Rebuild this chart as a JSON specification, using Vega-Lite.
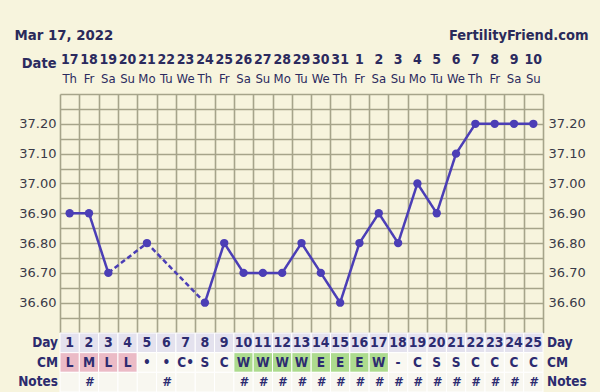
{
  "$schema": "https://vega.github.io/schema/vega-lite/v6.json",
  "background": "#F7F4DD",
  "padding": {"left": 14, "top": 27, "right": 12, "bottom": 1},
  "autosize": {"type": "pad"},
  "spacing": 0,
  "bounds": "flush",
  "config": {
    "view": {"stroke": null},
    "font": "DejaVu Sans",
    "axis": {"ticks": false, "tickSize": 0, "domain": false, "labelFont": "DejaVu Sans", "titleFont": "DejaVu Sans Condensed, DejaVu Sans", "labelOverlap": false, "labelFlush": false}
  },
  "datasets": {
    "days": [
      {"day": 1, "date": 17, "wd": "Th", "temp": 36.9, "cm": "L", "phase": "period", "note": ""},
      {"day": 2, "date": 18, "wd": "Fr", "temp": 36.9, "cm": "M", "phase": "period", "note": "#"},
      {"day": 3, "date": 19, "wd": "Sa", "temp": 36.7, "cm": "L", "phase": "period", "note": ""},
      {"day": 4, "date": 20, "wd": "Su", "temp": null, "cm": "L", "phase": "period", "note": ""},
      {"day": 5, "date": 21, "wd": "Mo", "temp": 36.8, "cm": "•", "phase": "other", "note": ""},
      {"day": 6, "date": 22, "wd": "Tu", "temp": null, "cm": "•", "phase": "other", "note": "#"},
      {"day": 7, "date": 23, "wd": "We", "temp": null, "cm": "C•", "phase": "other", "note": ""},
      {"day": 8, "date": 24, "wd": "Th", "temp": 36.6, "cm": "S", "phase": "other", "note": ""},
      {"day": 9, "date": 25, "wd": "Fr", "temp": 36.8, "cm": "C", "phase": "other", "note": ""},
      {"day": 10, "date": 26, "wd": "Sa", "temp": 36.7, "cm": "W", "phase": "fertile", "note": "#"},
      {"day": 11, "date": 27, "wd": "Su", "temp": 36.7, "cm": "W", "phase": "fertile", "note": "#"},
      {"day": 12, "date": 28, "wd": "Mo", "temp": 36.7, "cm": "W", "phase": "fertile", "note": "#"},
      {"day": 13, "date": 29, "wd": "Tu", "temp": 36.8, "cm": "W", "phase": "fertile", "note": "#"},
      {"day": 14, "date": 30, "wd": "We", "temp": 36.7, "cm": "E", "phase": "fertile", "note": "#"},
      {"day": 15, "date": 31, "wd": "Th", "temp": 36.6, "cm": "E", "phase": "fertile", "note": "#"},
      {"day": 16, "date": 1, "wd": "Fr", "temp": 36.8, "cm": "E", "phase": "fertile", "note": "#"},
      {"day": 17, "date": 2, "wd": "Sa", "temp": 36.9, "cm": "W", "phase": "fertile", "note": "#"},
      {"day": 18, "date": 3, "wd": "Su", "temp": 36.8, "cm": "-", "phase": "other", "note": "#"},
      {"day": 19, "date": 4, "wd": "Mo", "temp": 37.0, "cm": "C", "phase": "other", "note": "#"},
      {"day": 20, "date": 5, "wd": "Tu", "temp": 36.9, "cm": "S", "phase": "other", "note": "#"},
      {"day": 21, "date": 6, "wd": "We", "temp": 37.1, "cm": "S", "phase": "other", "note": "#"},
      {"day": 22, "date": 7, "wd": "Th", "temp": 37.2, "cm": "C", "phase": "other", "note": "#"},
      {"day": 23, "date": 8, "wd": "Fr", "temp": 37.2, "cm": "C", "phase": "other", "note": "#"},
      {"day": 24, "date": 9, "wd": "Sa", "temp": 37.2, "cm": "C", "phase": "other", "note": "#"},
      {"day": 25, "date": 10, "wd": "Su", "temp": 37.2, "cm": "C", "phase": "other", "note": "#"}
    ],
    "segments": [
      {"day": 1, "temp": 36.9, "seg": "a", "style": "solid"},
      {"day": 2, "temp": 36.9, "seg": "a", "style": "solid"},
      {"day": 3, "temp": 36.7, "seg": "a", "style": "solid"},
      {"day": 3, "temp": 36.7, "seg": "b", "style": "dashed"},
      {"day": 5, "temp": 36.8, "seg": "b", "style": "dashed"},
      {"day": 8, "temp": 36.6, "seg": "b", "style": "dashed"},
      {"day": 8, "temp": 36.6, "seg": "c", "style": "solid"},
      {"day": 9, "temp": 36.8, "seg": "c", "style": "solid"},
      {"day": 10, "temp": 36.7, "seg": "c", "style": "solid"},
      {"day": 11, "temp": 36.7, "seg": "c", "style": "solid"},
      {"day": 12, "temp": 36.7, "seg": "c", "style": "solid"},
      {"day": 13, "temp": 36.8, "seg": "c", "style": "solid"},
      {"day": 14, "temp": 36.7, "seg": "c", "style": "solid"},
      {"day": 15, "temp": 36.6, "seg": "c", "style": "solid"},
      {"day": 16, "temp": 36.8, "seg": "c", "style": "solid"},
      {"day": 17, "temp": 36.9, "seg": "c", "style": "solid"},
      {"day": 18, "temp": 36.8, "seg": "c", "style": "solid"},
      {"day": 19, "temp": 37.0, "seg": "c", "style": "solid"},
      {"day": 20, "temp": 36.9, "seg": "c", "style": "solid"},
      {"day": 21, "temp": 37.1, "seg": "c", "style": "solid"},
      {"day": 22, "temp": 37.2, "seg": "c", "style": "solid"},
      {"day": 23, "temp": 37.2, "seg": "c", "style": "solid"},
      {"day": 24, "temp": 37.2, "seg": "c", "style": "solid"},
      {"day": 25, "temp": 37.2, "seg": "c", "style": "solid"}
    ]
  },
  "vconcat": [
    {
      "width": 483,
      "height": 43,
      "data": {"name": "days"},
      "layer": [
        {
          "mark": {"type": "text", "font": "DejaVu Sans Condensed, DejaVu Sans", "fontWeight": "bold", "fontSize": 14, "color": "#2B2A5E"},
          "encoding": {
            "x": {"field": "day", "type": "quantitative", "scale": {"domain": [0.5, 25.5], "nice": false, "zero": false}, "axis": null},
            "y": {"datum": "num", "type": "ordinal", "scale": {"type": "band", "domain": ["num", "wd"], "paddingInner": 0, "paddingOuter": 0.1316, "align": 0},
              "axis": {"orient": "left", "labelExpr": "datum.value == 'num' ? 'Date' : ''", "labelFont": "DejaVu Sans Condensed, DejaVu Sans", "labelFontWeight": "bold", "labelFontSize": 14.5, "labelColor": "#2B2A5E", "labelPadding": 4, "labelOffset": 4,
                "title": "Mar 17, 2022", "titleAngle": 0, "titleAlign": "left", "titleBaseline": "middle", "titleX": -46, "titleY": -16, "titleFontSize": 14.8, "titleFontWeight": "bold", "titleColor": "#2A2A5A"}},
            "text": {"field": "date"}
          }
        },
        {
          "mark": {"type": "text", "font": "DejaVu Sans Condensed, DejaVu Sans", "fontSize": 13, "color": "#2B2A5E"},
          "encoding": {
            "x": {"field": "day", "type": "quantitative", "scale": {"domain": [0.5, 25.5], "nice": false, "zero": false}, "axis": null},
            "y": {"datum": "wd", "type": "ordinal",
              "axis": {"orient": "right", "labels": false, "title": "FertilityFriend.com", "titleAngle": 0, "titleAlign": "right", "titleBaseline": "middle", "titleX": 45, "titleY": -16, "titleFontSize": 14.5, "titleFontWeight": "bold", "titleColor": "#2A2A5A"}},
            "text": {"field": "wd"}
          }
        }
      ],
      "resolve": {"axis": {"y": "independent"}}
    },
    {
      "width": 483,
      "height": 238.5,
      "layer": [
        {
          "mark": {"type": "rule", "color": "#CD665A", "strokeWidth": 3},
          "encoding": {
            "y": {"datum": 36.856, "type": "quantitative", "scale": {"domain": [36.5, 37.3], "nice": false, "zero": false},
              "axis": {"orient": "left", "values": [36.5, 36.55, 36.6, 36.65, 36.7, 36.75, 36.8, 36.85, 36.9, 36.95, 37.0, 37.05, 37.1, 37.15, 37.2, 37.25, 37.3],
                "labelExpr": "(round(datum.value * 100) % 10 == 0 && datum.value > 36.55 && datum.value < 37.25) ? format(datum.value, '.2f') : ''",
                "grid": true, "gridColor": "#A6A48A", "gridWidth": 1.6, "labelFontSize": 13, "labelColor": "#3A3A48", "labelPadding": 4, "title": null}}
          }
        },
        {
          "data": {"name": "segments"},
          "mark": {"type": "line", "color": "#4B3EB6", "strokeWidth": 2.5},
          "encoding": {
            "x": {"field": "day", "type": "quantitative", "scale": {"domain": [0.5, 25.5], "nice": false, "zero": false},
              "axis": {"orient": "bottom", "values": [0.5, 1.5, 2.5, 3.5, 4.5, 5.5, 6.5, 7.5, 8.5, 9.5, 10.5, 11.5, 12.5, 13.5, 14.5, 15.5, 16.5, 17.5, 18.5, 19.5, 20.5, 21.5, 22.5, 23.5, 24.5, 25.5], "labels": false, "grid": true, "gridColor": "#A6A48A", "gridWidth": 1.6, "title": null}},
            "y": {"field": "temp", "type": "quantitative", "scale": {"domain": [36.5, 37.3], "nice": false, "zero": false}, "axis": null},
            "detail": {"field": "seg"},
            "strokeDash": {"field": "style", "type": "nominal", "scale": {"domain": ["solid", "dashed"], "range": [[1, 0], [5, 3]]}, "legend": null}
          }
        },
        {
          "data": {"name": "days"},
          "transform": [{"filter": "isValid(datum.temp)"}],
          "mark": {"type": "circle", "color": "#4B3EB6", "size": 70, "opacity": 1},
          "encoding": {
            "x": {"field": "day", "type": "quantitative", "scale": {"domain": [0.5, 25.5], "nice": false, "zero": false}, "axis": null},
            "y": {"field": "temp", "type": "quantitative", "scale": {"domain": [36.5, 37.3], "nice": false, "zero": false},
              "axis": {"orient": "right", "values": [36.6, 36.7, 36.8, 36.9, 37.0, 37.1, 37.2], "format": ".2f", "grid": false, "labelFontSize": 13, "labelColor": "#3A3A48", "labelPadding": 5, "title": null}}
          }
        },
        {
          "mark": {"type": "rule", "color": "#CD665A", "strokeWidth": 3},
          "encoding": {
            "x": {"datum": 18, "type": "quantitative", "scale": {"domain": [0.5, 25.5], "nice": false, "zero": false}, "axis": null}
          }
        }
      ],
      "resolve": {"axis": {"x": "independent", "y": "independent"}}
    },
    {
      "width": 483,
      "height": 59,
      "data": {"name": "days"},
      "encoding": {
        "x": {"field": "day", "type": "ordinal", "scale": {"type": "band", "domain": [1,2,3,4,5,6,7,8,9,10,11,12,13,14,15,16,17,18,19,20,21,22,23,24,25], "paddingInner": 0, "paddingOuter": 0}, "axis": null}
      },
      "layer": [
        {
          "mark": {"type": "rect", "fill": "#E4E2EE", "stroke": "#FFFFFF", "strokeWidth": 1},
          "encoding": {
            "y": {"datum": "Day", "type": "ordinal", "scale": {"type": "band", "domain": ["Day", "CM", "Notes"], "paddingInner": 0, "paddingOuter": 0},
              "axis": {"orient": "left", "labelFont": "DejaVu Sans Condensed, DejaVu Sans", "labelFontWeight": "bold", "labelFontSize": 13.5, "labelColor": "#2C2B6E", "labelPadding": 2.5, "title": null}}
          }
        },
        {
          "mark": {"type": "rect", "stroke": "#FFFFFF", "strokeWidth": 1},
          "encoding": {
            "y": {"datum": "CM", "type": "ordinal", "axis": null},
            "fill": {"field": "phase", "type": "nominal", "scale": {"domain": ["period", "fertile", "other"], "range": ["#EBBBC6", "#ADDB8E", "#F9F8F1"]}, "legend": null}
          }
        },
        {
          "mark": {"type": "rect", "fill": "#F8F7F0", "stroke": "#FFFFFF", "strokeWidth": 1},
          "encoding": {
            "y": {"datum": "Notes", "type": "ordinal",
              "axis": {"orient": "right", "labelFont": "DejaVu Sans Condensed, DejaVu Sans", "labelFontWeight": "bold", "labelFontSize": 13.5, "labelColor": "#2C2B6E", "labelPadding": 3.5, "title": null}}
          }
        },
        {
          "mark": {"type": "text", "font": "DejaVu Sans Condensed, DejaVu Sans", "fontWeight": "bold", "fontSize": 14, "color": "#2C2B70"},
          "encoding": {"y": {"datum": "Day", "type": "ordinal", "axis": null}, "text": {"field": "day"}}
        },
        {
          "mark": {"type": "text", "font": "DejaVu Sans Condensed, DejaVu Sans", "fontWeight": "bold", "fontSize": 13.5, "color": "#2C2B70"},
          "encoding": {"y": {"datum": "CM", "type": "ordinal", "axis": null}, "text": {"field": "cm"}}
        },
        {
          "mark": {"type": "text", "font": "DejaVu Sans Condensed, DejaVu Sans", "fontWeight": "bold", "fontStyle": "italic", "fontSize": 13, "color": "#2C2B70"},
          "encoding": {"y": {"datum": "Notes", "type": "ordinal", "axis": null}, "text": {"field": "note"}}
        }
      ],
      "resolve": {"axis": {"y": "independent"}}
    }
  ]
}
